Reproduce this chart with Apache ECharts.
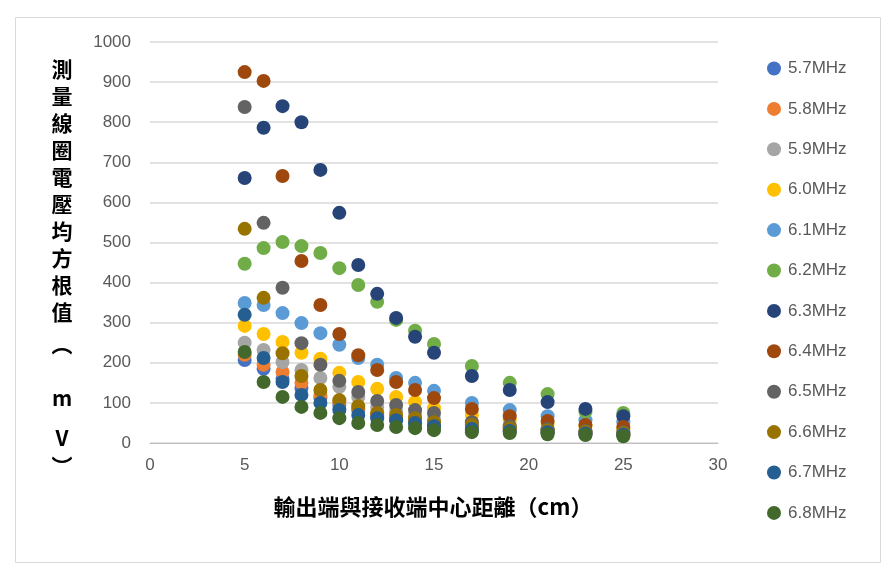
<!DOCTYPE html>
<html><head><meta charset="utf-8">
<script src="https://cdn.jsdelivr.net/npm/echarts@6/dist/echarts.min.js"></script>
<style>html,body{margin:0;padding:0;background:#fff}#c{width:894px;height:577px}</style>
</head><body><div id="c"></div>
<script>
const distances = [5,6,7,8,9,10,11,12,13,14,15,17,19,21,23,25];
const seriesNames = ['5.7MHz','5.8MHz','5.9MHz','6.0MHz','6.1MHz','6.2MHz','6.3MHz','6.4MHz','6.5MHz','6.6MHz','6.7MHz','6.8MHz'];
const v57 = [207,185,160,137,113,95,82,68,58,50,43,35,30,26,22,20];
const v58 = [220,195,177,150,120,103,88,75,63,55,48,38,32,28,24,21];
const v59 = [250,232,202,182,162,140,115,90,80,70,60,47,40,34,29,25];
const v60 = [292,272,252,225,210,175,152,135,115,102,87,70,57,48,42,36];
const v61 = [349,344,324,299,274,245,212,195,162,150,130,100,82,67,57,52];
const v62 = [447,486,501,491,474,436,394,352,307,280,247,192,150,122,78,75];
const v63 = [661,786,840,800,681,574,444,372,312,265,225,167,132,102,85,67];
const v64 = [925,903,666,454,344,272,219,182,152,132,112,85,67,55,45,40];
const v65 = [838,549,387,249,195,155,127,105,95,82,75,52,42,35,30,27];
const v66 = [534,362,224,167,132,107,92,75,70,62,52,45,37,32,28,25];
const v67 = [320,212,152,120,100,82,70,62,57,50,42,35,30,27,24,21];
const v68 = [227,152,115,90,75,62,50,45,40,37,32,27,25,22,20,17];
const allValues = [v57,v58,v59,v60,v61,v62,v63,v64,v65,v66,v67,v68];
const colors = ['#4472C4','#ED7D31','#A5A5A5','#FFC000','#5B9BD5','#70AD47','#264478','#9E480E','#636363','#997300','#255E91','#43682B'];
const yTitleMain = ['測','量','線','圈','電','壓','均','方','根','值'];
const yTitleUnit = ['︵','m','V','︶'];
const xTitle = '輸出端與接收端中心距離（cm）';

const chart = echarts.init(document.getElementById('c'));
const lblFont = '"Liberation Sans", "Noto Sans", sans-serif';
const cjkFont = 'bold 21px "Noto Sans CJK TC", sans-serif';
const unitY = [344, 398, 438, 466];
const graphics = [
  {type: 'rect', shape: {x: 15.5, y: 17.5, width: 865, height: 545}, style: {fill: 'none', stroke: '#d9d9d9', lineWidth: 1}, silent: true, z: -10},
  {type: 'text', x: 62, y: 55, style: {text: yTitleMain.join('\n'), font: cjkFont, lineHeight: 27.1, fill: '#000', align: 'center'}},
  {type: 'text', x: 433, y: 507, style: {text: xTitle, font: 'bold 22px "Noto Sans CJK TC", sans-serif', fill: '#000', align: 'center', verticalAlign: 'middle'}}
];
yTitleUnit.forEach((ch, i) => graphics.push({type: 'text', x: 62, y: unitY[i], style: {text: ch, font: cjkFont, fill: '#000', align: 'center', verticalAlign: 'middle'}}));

chart.setOption({
  animation: false,
  backgroundColor: '#fff',
  color: colors,
  grid: {left: 150, top: 42, width: 568, height: 401, containLabel: false},
  xAxis: {
    type: 'value', min: 0, max: 30, interval: 5,
    axisLine: {show: true, lineStyle: {color: '#bfbfbf', width: 1}},
    axisTick: {show: false},
    splitLine: {show: false},
    axisLabel: {color: '#595959', fontSize: 17, fontFamily: lblFont, margin: 14}
  },
  yAxis: {
    type: 'value', min: 0, max: 1000, interval: 100,
    axisLine: {show: false}, axisTick: {show: false},
    splitLine: {show: true, lineStyle: {color: '#d9d9d9', width: 1.5}},
    axisLabel: {color: '#595959', fontSize: 17, fontFamily: lblFont, margin: 19, formatter: v => String(v)}
  },
  legend: {
    orient: 'vertical', left: 762, top: 55,
    itemWidth: 14, itemHeight: 14, itemGap: 23.4, icon: 'circle',
    textStyle: {color: '#595959', fontSize: 17, fontFamily: lblFont, padding: [0,0,0,2]},
    data: seriesNames
  },
  graphic: graphics,
  series: seriesNames.map((n, i) => ({
    name: n, type: 'scatter', symbolSize: 14,
    itemStyle: {color: colors[i], opacity: 1},
    data: distances.map((d, j) => [d, allValues[i][j]])
  }))
});
</script></body></html>
